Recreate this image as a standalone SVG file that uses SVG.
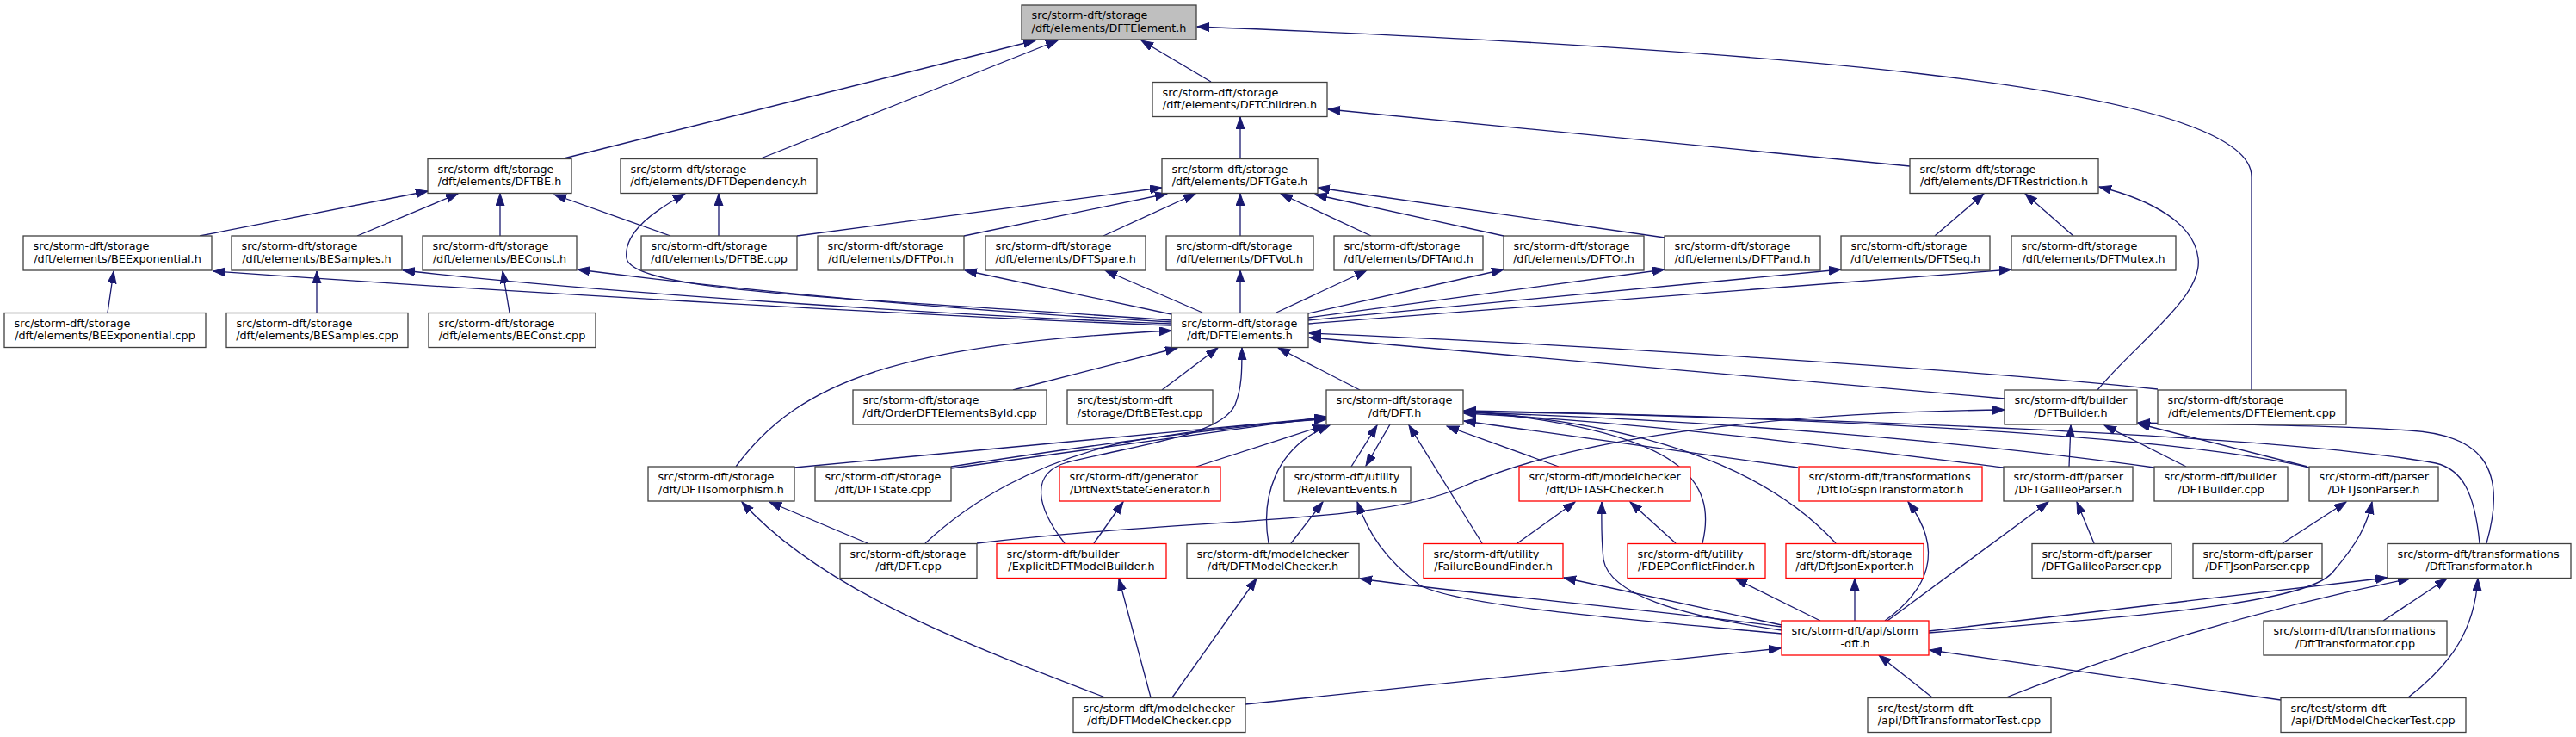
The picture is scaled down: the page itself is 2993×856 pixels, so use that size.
<svg xmlns="http://www.w3.org/2000/svg" width="2993" height="856" viewBox="0 0 2993 856">
<style>
rect{fill:#fff;stroke:#404040;stroke-width:1.3}
rect.root{fill:#bfbfbf}
rect.red{stroke:#ff0000}
text{font-family:"DejaVu Sans","Liberation Sans",sans-serif;font-size:12.8px;fill:#000}
text.c{text-anchor:middle}
#edges path{fill:none;stroke:#191970;stroke-width:1.3;marker-end:url(#arr)}
</style>
<defs>
<marker id="arr" markerUnits="userSpaceOnUse" markerWidth="15" markerHeight="11" refX="14" refY="5" orient="auto">
<path d="M0,0 L14,5 L0,10 z" fill="#191970" stroke="#191970" stroke-width="1"/>
</marker>
</defs>
<rect x="0" y="0" width="2993" height="856" style="fill:#fff;stroke:none"/>
<g id="edges">
<path d="M655,184 L1203,47"/>
<path d="M884,184 L1229,47"/>
<path d="M1407,95 L1326,47"/>
<path d="M2616,453 L2616,205 C2616,95 2000,55 1391,31"/>
<path d="M1441,184 L1441,136"/>
<path d="M2219,193 L1543,127"/>
<path d="M232,274 L497,222"/>
<path d="M415,274 L532,225"/>
<path d="M581,274 L581,225"/>
<path d="M779,274 L644,226"/>
<path d="M835,274 L835,225"/>
<path d="M926,274 L1350,218"/>
<path d="M1361,372 C1000,346 735,340 728,300 C724,270 760,245 796,225"/>
<path d="M1361,378 C1100,368 600,340 248,315"/>
<path d="M1361,376 C1100,366 700,340 468,314"/>
<path d="M1361,374 C1100,360 850,336 671,313"/>
<path d="M1120,274 L1356,225"/>
<path d="M1282,274 L1389,225"/>
<path d="M1441,274 L1441,225"/>
<path d="M1593,274 L1488,225"/>
<path d="M1747,274 L1528,226"/>
<path d="M1934,276 L1531,218"/>
<path d="M2248,274 L2305,225"/>
<path d="M2409,274 L2353,225"/>
<path d="M2437,453 C2480,400 2560,345 2554,300 C2550,260 2500,232 2439,217"/>
<path d="M1361,365 L1121,314"/>
<path d="M1397,363 L1284,314"/>
<path d="M1441,363 L1441,314"/>
<path d="M1483,363 L1588,314"/>
<path d="M1520,364 L1747,313"/>
<path d="M1520,369 L1934,313"/>
<path d="M1520,372 L2139,313"/>
<path d="M1520,376 L2337,313"/>
<path d="M125,363 L132,315"/>
<path d="M368,363 L368,315"/>
<path d="M592,363 L584,315"/>
<path d="M1177,453 L1368,404"/>
<path d="M1350,453 L1415,404"/>
<path d="M1237,631 C1205,590 1195,550 1240,537 C1330,515 1420,505 1435,470 C1443,450 1443,430 1443,404"/>
<path d="M1580,453 L1485,404"/>
<path d="M2507,452 C2300,430 1800,398 1521,387"/>
<path d="M2329,463 L1521,392"/>
<path d="M855,542 C930,440 1050,400 1361,384"/>
<path d="M923,543 L1541,485"/>
<path d="M1105,544 L1541,484"/>
<path d="M1105,542 C1300,512 1450,494 1541,486"/>
<path d="M1075,631 C1130,580 1200,540 1300,515 C1400,497 1480,490 1541,487"/>
<path d="M1390,542 L1539,494"/>
<path d="M1474,631 C1465,580 1480,520 1545,494"/>
<path d="M1570,542 L1600,494"/>
<path d="M1615,493 L1587,541"/>
<path d="M1722,631 L1637,494"/>
<path d="M1811,542 L1681,495"/>
<path d="M2089,543 L1701,489"/>
<path d="M2133,631 C2050,540 1900,490 1701,478"/>
<path d="M1978,631 C1995,560 1960,500 1701,477"/>
<path d="M2881,631 C2875,570 2860,545 2830,538 C2650,505 2100,485 1701,477"/>
<path d="M2683,543 C2500,500 2000,482 1701,478"/>
<path d="M2503,543 C2300,515 2000,488 1701,479"/>
<path d="M2328,543 C2100,515 1900,490 1701,480"/>
<path d="M1284,810 C1100,740 950,680 862,583"/>
<path d="M1008,631 L894,583"/>
<path d="M1135,631 C1400,600 1600,610 1700,565 C1800,520 2000,480 2329,476"/>
<path d="M1271,631 L1305,583"/>
<path d="M1337,810 L1300,672"/>
<path d="M1362,810 L1460,672"/>
<path d="M1500,631 L1537,583"/>
<path d="M2070,728 C1900,705 1700,690 1580,672"/>
<path d="M2070,726 L1817,671"/>
<path d="M2070,736 C1900,720 1700,705 1650,680 C1610,650 1590,620 1577,583"/>
<path d="M2070,732 C1950,715 1870,690 1863,650 C1860,620 1861,600 1861,583"/>
<path d="M2115,721 L2016,672"/>
<path d="M2155,721 L2155,672"/>
<path d="M2190,721 C2240,685 2260,640 2217,583"/>
<path d="M2193,721 L2380,583"/>
<path d="M2241,733 L2774,671"/>
<path d="M2241,735 C2500,715 2680,700 2710,665 C2740,630 2750,610 2756,583"/>
<path d="M1447,818 L2069,753"/>
<path d="M2245,810 L2183,761"/>
<path d="M2650,813 L2242,755"/>
<path d="M2331,810 Q2560,720 2800,672"/>
<path d="M2769,721 L2843,672"/>
<path d="M2798,810 C2850,770 2875,730 2879,672"/>
<path d="M2433,631 L2413,583"/>
<path d="M2652,631 L2726,583"/>
<path d="M2404,542 L2406,494"/>
<path d="M2540,542 L2445,494"/>
<path d="M2681,542 L2484,492"/>
<path d="M2889,631 C2915,540 2880,505 2800,500 C2700,493 2560,493 2484,491"/>
<path d="M1947,631 L1894,583"/>
<path d="M1763,631 L1830,583"/>
</g>
<g id="n1"><rect class="root" x="1187" y="6" width="203" height="40"/><text x="1198.5" y="22">src/storm-dft/storage</text><text class="c" x="1288.5" y="36.5">/dft/elements/DFTElement.h</text></g>
<g id="n2"><rect x="1339" y="95.5" width="203" height="40"/><text x="1350.5" y="111.5">src/storm-dft/storage</text><text class="c" x="1440.5" y="126">/dft/elements/DFTChildren.h</text></g>
<g id="n3"><rect x="497" y="184.5" width="167" height="40"/><text x="508.5" y="200.5">src/storm-dft/storage</text><text class="c" x="580.5" y="215">/dft/elements/DFTBE.h</text></g>
<g id="n4"><rect x="721" y="184.5" width="228" height="40"/><text x="732.5" y="200.5">src/storm-dft/storage</text><text class="c" x="835" y="215">/dft/elements/DFTDependency.h</text></g>
<g id="n5"><rect x="1350" y="184.5" width="181" height="40"/><text x="1361.5" y="200.5">src/storm-dft/storage</text><text class="c" x="1440.5" y="215">/dft/elements/DFTGate.h</text></g>
<g id="n6"><rect x="2219" y="184.5" width="219" height="40"/><text x="2230.5" y="200.5">src/storm-dft/storage</text><text class="c" x="2328.5" y="215">/dft/elements/DFTRestriction.h</text></g>
<g id="n7"><rect x="27" y="274" width="219" height="40"/><text x="38.5" y="290">src/storm-dft/storage</text><text class="c" x="136.5" y="304.5">/dft/elements/BEExponential.h</text></g>
<g id="n8"><rect x="269" y="274" width="198" height="40"/><text x="280.5" y="290">src/storm-dft/storage</text><text class="c" x="368" y="304.5">/dft/elements/BESamples.h</text></g>
<g id="n9"><rect x="491" y="274" width="179" height="40"/><text x="502.5" y="290">src/storm-dft/storage</text><text class="c" x="580.5" y="304.5">/dft/elements/BEConst.h</text></g>
<g id="n10"><rect x="745" y="274" width="181" height="40"/><text x="756.5" y="290">src/storm-dft/storage</text><text class="c" x="835.5" y="304.5">/dft/elements/DFTBE.cpp</text></g>
<g id="n11"><rect x="950" y="274" width="170" height="40"/><text x="961.5" y="290">src/storm-dft/storage</text><text class="c" x="1035" y="304.5">/dft/elements/DFTPor.h</text></g>
<g id="n12"><rect x="1145" y="274" width="186" height="40"/><text x="1156.5" y="290">src/storm-dft/storage</text><text class="c" x="1238" y="304.5">/dft/elements/DFTSpare.h</text></g>
<g id="n13"><rect x="1355" y="274" width="171" height="40"/><text x="1366.5" y="290">src/storm-dft/storage</text><text class="c" x="1440.5" y="304.5">/dft/elements/DFTVot.h</text></g>
<g id="n14"><rect x="1550" y="274" width="173" height="40"/><text x="1561.5" y="290">src/storm-dft/storage</text><text class="c" x="1636.5" y="304.5">/dft/elements/DFTAnd.h</text></g>
<g id="n15"><rect x="1747" y="274" width="163" height="40"/><text x="1758.5" y="290">src/storm-dft/storage</text><text class="c" x="1828.5" y="304.5">/dft/elements/DFTOr.h</text></g>
<g id="n16"><rect x="1934" y="274" width="181" height="40"/><text x="1945.5" y="290">src/storm-dft/storage</text><text class="c" x="2024.5" y="304.5">/dft/elements/DFTPand.h</text></g>
<g id="n17"><rect x="2139" y="274" width="173" height="40"/><text x="2150.5" y="290">src/storm-dft/storage</text><text class="c" x="2225.5" y="304.5">/dft/elements/DFTSeq.h</text></g>
<g id="n18"><rect x="2337" y="274" width="191" height="40"/><text x="2348.5" y="290">src/storm-dft/storage</text><text class="c" x="2432.5" y="304.5">/dft/elements/DFTMutex.h</text></g>
<g id="n19"><rect x="5" y="363.5" width="234" height="40"/><text x="16.5" y="379.5">src/storm-dft/storage</text><text class="c" x="122" y="394">/dft/elements/BEExponential.cpp</text></g>
<g id="n20"><rect x="263" y="363.5" width="211" height="40"/><text x="274.5" y="379.5">src/storm-dft/storage</text><text class="c" x="368.5" y="394">/dft/elements/BESamples.cpp</text></g>
<g id="n21"><rect x="498" y="363.5" width="194" height="40"/><text x="509.5" y="379.5">src/storm-dft/storage</text><text class="c" x="595" y="394">/dft/elements/BEConst.cpp</text></g>
<g id="n22"><rect x="1361" y="363.5" width="159" height="40"/><text x="1372.5" y="379.5">src/storm-dft/storage</text><text class="c" x="1440.5" y="394">/dft/DFTElements.h</text></g>
<g id="n23"><rect x="991" y="453" width="225" height="40"/><text x="1002.5" y="469">src/storm-dft/storage</text><text class="c" x="1103.5" y="483.5">/dft/OrderDFTElementsById.cpp</text></g>
<g id="n24"><rect x="1240" y="453" width="169" height="40"/><text x="1251.5" y="469">src/test/storm-dft</text><text class="c" x="1324.5" y="483.5">/storage/DftBETest.cpp</text></g>
<g id="n25"><rect x="1541" y="453" width="159" height="40"/><text x="1552.5" y="469">src/storm-dft/storage</text><text class="c" x="1620.5" y="483.5">/dft/DFT.h</text></g>
<g id="n26"><rect x="2329" y="453" width="154" height="40"/><text x="2340.5" y="469">src/storm-dft/builder</text><text class="c" x="2406" y="483.5">/DFTBuilder.h</text></g>
<g id="n27"><rect x="2507" y="453" width="219" height="40"/><text x="2518.5" y="469">src/storm-dft/storage</text><text class="c" x="2616.5" y="483.5">/dft/elements/DFTElement.cpp</text></g>
<g id="n28"><rect x="753" y="542" width="170" height="40"/><text x="764.5" y="558">src/storm-dft/storage</text><text class="c" x="838" y="572.5">/dft/DFTIsomorphism.h</text></g>
<g id="n29"><rect x="947" y="542" width="158" height="40"/><text x="958.5" y="558">src/storm-dft/storage</text><text class="c" x="1026" y="572.5">/dft/DFTState.cpp</text></g>
<g id="n30"><rect class="red" x="1231" y="542" width="187" height="40"/><text x="1242.5" y="558">src/storm-dft/generator</text><text class="c" x="1324.5" y="572.5">/DftNextStateGenerator.h</text></g>
<g id="n31"><rect x="1492" y="542" width="147" height="40"/><text x="1503.5" y="558">src/storm-dft/utility</text><text class="c" x="1565.5" y="572.5">/RelevantEvents.h</text></g>
<g id="n32"><rect class="red" x="1765" y="542" width="199" height="40"/><text x="1776.5" y="558">src/storm-dft/modelchecker</text><text class="c" x="1864.5" y="572.5">/dft/DFTASFChecker.h</text></g>
<g id="n33"><rect class="red" x="2090" y="542" width="213" height="40"/><text x="2101.5" y="558">src/storm-dft/transformations</text><text class="c" x="2196.5" y="572.5">/DftToGspnTransformator.h</text></g>
<g id="n34"><rect x="2328" y="542" width="150" height="40"/><text x="2339.5" y="558">src/storm-dft/parser</text><text class="c" x="2403" y="572.5">/DFTGalileoParser.h</text></g>
<g id="n35"><rect x="2503" y="542" width="155" height="40"/><text x="2514.5" y="558">src/storm-dft/builder</text><text class="c" x="2580.5" y="572.5">/DFTBuilder.cpp</text></g>
<g id="n36"><rect x="2683" y="542" width="150" height="40"/><text x="2694.5" y="558">src/storm-dft/parser</text><text class="c" x="2758" y="572.5">/DFTJsonParser.h</text></g>
<g id="n37"><rect x="976" y="631.5" width="159" height="40"/><text x="987.5" y="647.5">src/storm-dft/storage</text><text class="c" x="1055.5" y="662">/dft/DFT.cpp</text></g>
<g id="n38"><rect class="red" x="1158" y="631.5" width="197" height="40"/><text x="1169.5" y="647.5">src/storm-dft/builder</text><text class="c" x="1256.5" y="662">/ExplicitDFTModelBuilder.h</text></g>
<g id="n39"><rect x="1379" y="631.5" width="200" height="40"/><text x="1390.5" y="647.5">src/storm-dft/modelchecker</text><text class="c" x="1479" y="662">/dft/DFTModelChecker.h</text></g>
<g id="n40"><rect class="red" x="1654" y="631.5" width="162" height="40"/><text x="1665.5" y="647.5">src/storm-dft/utility</text><text class="c" x="1735" y="662">/FailureBoundFinder.h</text></g>
<g id="n41"><rect class="red" x="1891" y="631.5" width="160" height="40"/><text x="1902.5" y="647.5">src/storm-dft/utility</text><text class="c" x="1971" y="662">/FDEPConflictFinder.h</text></g>
<g id="n42"><rect class="red" x="2075" y="631.5" width="160" height="40"/><text x="2086.5" y="647.5">src/storm-dft/storage</text><text class="c" x="2155" y="662">/dft/DftJsonExporter.h</text></g>
<g id="n43"><rect x="2361" y="631.5" width="162" height="40"/><text x="2372.5" y="647.5">src/storm-dft/parser</text><text class="c" x="2442" y="662">/DFTGalileoParser.cpp</text></g>
<g id="n44"><rect x="2548" y="631.5" width="150" height="40"/><text x="2559.5" y="647.5">src/storm-dft/parser</text><text class="c" x="2623" y="662">/DFTJsonParser.cpp</text></g>
<g id="n45"><rect x="2774" y="631.5" width="213" height="40"/><text x="2785.5" y="647.5">src/storm-dft/transformations</text><text class="c" x="2880.5" y="662">/DftTransformator.h</text></g>
<g id="n46"><rect class="red" x="2070" y="721" width="171" height="40"/><text x="2081.5" y="737">src/storm-dft/api/storm</text><text class="c" x="2155.5" y="751.5">-dft.h</text></g>
<g id="n47"><rect x="2630" y="721" width="213" height="40"/><text x="2641.5" y="737">src/storm-dft/transformations</text><text class="c" x="2736.5" y="751.5">/DftTransformator.cpp</text></g>
<g id="n48"><rect x="1247" y="810.5" width="200" height="40"/><text x="1258.5" y="826.5">src/storm-dft/modelchecker</text><text class="c" x="1347" y="841">/dft/DFTModelChecker.cpp</text></g>
<g id="n49"><rect x="2170" y="810.5" width="213" height="40"/><text x="2181.5" y="826.5">src/test/storm-dft</text><text class="c" x="2276.5" y="841">/api/DftTransformatorTest.cpp</text></g>
<g id="n50"><rect x="2650" y="810.5" width="215" height="40"/><text x="2661.5" y="826.5">src/test/storm-dft</text><text class="c" x="2757.5" y="841">/api/DftModelCheckerTest.cpp</text></g>
</svg>
